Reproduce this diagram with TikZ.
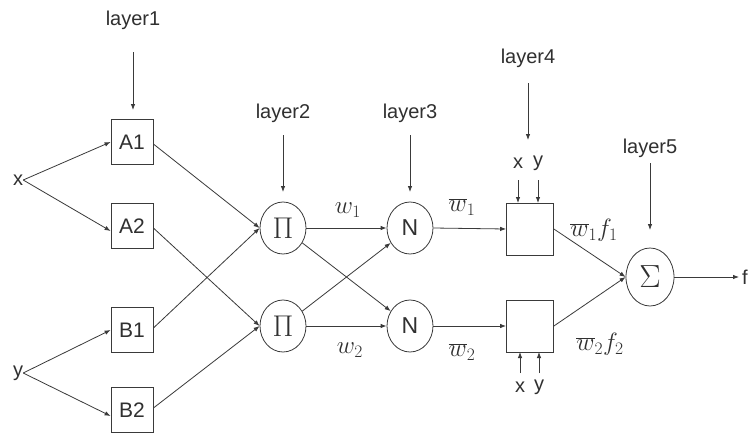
\RequirePackage{fix-cm}
\documentclass[tikz,border=0pt]{standalone}
\usepackage{fontspec}
\setmainfont{Liberation Sans}
\usetikzlibrary{arrows.meta,shapes.geometric}
\definecolor{ln}{HTML}{3A3A3A}
\definecolor{tx}{HTML}{303030}
\tikzset{
  lbl/.style={text=tx,font=\fontsize{20}{24}\selectfont,inner sep=0pt},
  mlbl/.style={text=tx,font=\fontsize{25}{28}\selectfont,inner sep=0pt},
  inbox/.style={draw=ln,line width=0.8pt,minimum width=42pt,minimum height=45pt,inner sep=0pt,text=tx,font=\fontsize{21}{24}\selectfont},
  mulnode/.style={draw=ln,line width=0.8pt,ellipse,minimum width=46pt,minimum height=52pt,inner sep=0pt,text=tx,font=\fontsize{23}{26}\selectfont},
  rulebox/.style={draw=ln,line width=0.8pt,minimum width=47pt,minimum height=52pt,inner sep=0pt},
  sumnode/.style={draw=ln,line width=0.8pt,ellipse,minimum width=48pt,minimum height=58pt,inner sep=0pt,text=tx},
  conn/.style={draw=ln,line width=0.8pt,-{Latex[length=6pt,width=4.5pt]}},
}
\begin{document}
\begin{tikzpicture}[x=1pt,y=-1pt]
\useasboundingbox[fill=white] (0,0) rectangle (748,432);
% inputs
\node[lbl] (x) at (18,180) {x};
\node[lbl] (y) at (18,373) {y};
% layer 1
\node[inbox] (A1) at (132,142) {A1};
\node[inbox] (A2) at (132,226) {A2};
\node[inbox] (B1) at (132,330) {B1};
\node[inbox] (B2) at (132,410) {B2};
% layer 2
\node[mulnode] (P1) at (283,228) {\fontsize{30}{32}\selectfont$\Pi$};
\node[mulnode] (P2) at (283,326) {\fontsize{30}{32}\selectfont$\Pi$};
% layer 3
\node[mulnode] (N1) at (410,228) {N};
\node[mulnode] (N2) at (410,326) {N};
% layer 4
\node[rulebox] (R1) at (530,229) {};
\node[rulebox] (R2) at (530,326) {};
% layer 5
\node[sumnode] (S) at (650,277) {\fontsize{32}{34}\selectfont$\Sigma$};
\node[lbl] (f) at (745,277) {f};
% layer labels
\node[lbl] (L1) at (133,20) {layer1};
\node[lbl] (L2) at (283,113) {layer2};
\node[lbl] (L3) at (410,113) {layer3};
\node[lbl] (L4) at (528,58) {layer4};
\node[lbl] (L5) at (650,148) {layer5};
\coordinate (L1e) at (133,110);
\coordinate (L2e) at (283,192);
\coordinate (L3e) at (410,192);
\coordinate (L4e) at (528,140);
\coordinate (L5e) at (650,230);
\draw[conn] (L1) ++(0,32) -- (L1e);
\draw[conn] (L2) ++(0,22) -- (L2e);
\draw[conn] (L3) ++(0,22) -- (L3e);
\draw[conn] (L4) ++(0,25) -- (L4e);
\draw[conn] (L5) ++(0,15) -- (L5e);
% x y for rule boxes
\node[lbl] (x1) at (518,163) {x};
\node[lbl] (y1) at (538,163) {y};
\node[lbl] (x2) at (520,387) {x};
\node[lbl] (y2) at (539,387) {y};
\draw[conn] (518,180) -- (518,203);
\draw[conn] (538,180) -- (538,203);
\draw[conn] (520,373) -- (520,352);
\draw[conn] (539,373) -- (539,352);
% weights labels
\node[mlbl] (w1) at (348,210) {$w_1$};
\node[mlbl] (w2) at (350,350) {$w_2$};
\node[mlbl] (wb1) at (462,207) {$\overline{w}_1$};
\node[mlbl] (wb2) at (462,352) {$\overline{w}_2$};
\node[mlbl] (wf1) at (594,230) {$\overline{w}_1f_1$};
\node[mlbl] (wf2) at (600,344) {$\overline{w}_2f_2$};
% connections
\draw[conn] (x.east) -- (A1.west);
\draw[conn] (x.east) -- ([yshift=-5pt]A2.west);
\draw[conn] (y.east) -- (B1.west);
\draw[conn] (y.east) -- ([yshift=-6pt]B2.west);
\draw[conn] ([yshift=-2pt]A1.east) -- (P1.west);
\draw[conn] ([yshift=-2pt]A2.east) -- (P2.west);
\draw[conn] ([yshift=2pt]B1.east) -- (P1.west);
\draw[conn] ([yshift=2pt]B2.east) -- (P2.west);
\draw[conn] (P1.east) -- (N1.west);
\draw[conn] (P2.east) -- (N2.west);
\draw[conn] (P1) -- (N2);
\draw[conn] (P2) -- (N1);
\draw[conn] (N1.east) -- (R1.west);
\draw[conn] (N2.east) -- (R2.west);
\draw[conn] (R1.east) -- (S.west);
\draw[conn] (R2.east) -- (S.west);
\draw[conn] (S.east) -- ([xshift=-3pt]f.west);
\end{tikzpicture}
\end{document}
